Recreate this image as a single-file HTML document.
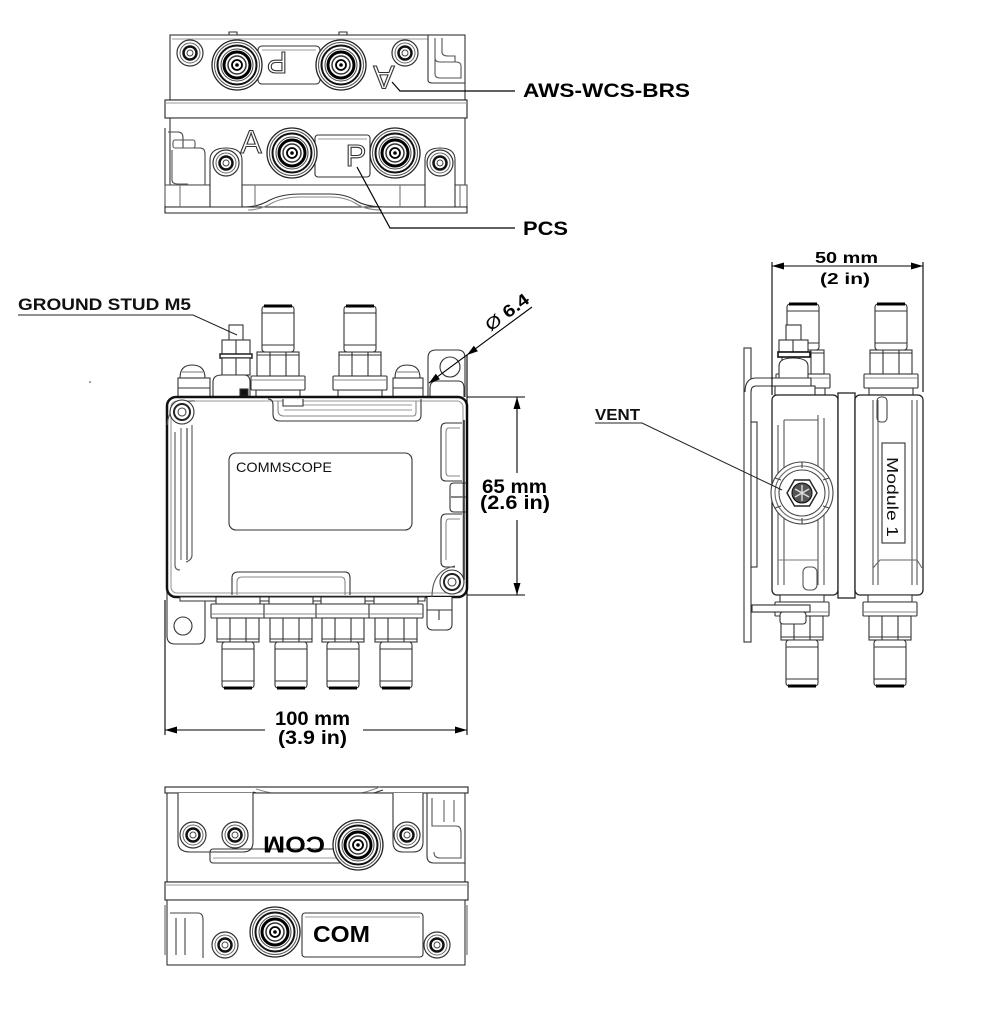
<!DOCTYPE html>
<html><head><meta charset="utf-8">
<style>
html,body{margin:0;padding:0;background:#fff;}
svg{display:block;}
text{font-family:"Liberation Sans",Arial,sans-serif;}
</style></head><body>
<svg width="982" height="1022" viewBox="0 0 982 1022" xmlns="http://www.w3.org/2000/svg">
<defs>
<g id="face">
 <circle r="25" fill="#fff" stroke="#222" stroke-width="1.3"/>
 <circle r="22.5" fill="none" stroke="#555" stroke-width="1"/>
 <circle r="19.5" fill="none" stroke="#111" stroke-width="2"/>
 <circle r="16" fill="none" stroke="#444" stroke-width="1"/>
 <circle r="13" fill="none" stroke="#000" stroke-width="3"/>
 <circle r="9" fill="none" stroke="#333" stroke-width="1.5"/>
 <circle r="5" fill="none" stroke="#000" stroke-width="1.8"/>
 <circle r="1.8" fill="#000"/>
</g>
<g id="hole">
 <circle r="13" fill="#fff" stroke="#333" stroke-width="1.2"/>
 <circle r="10" fill="none" stroke="#666" stroke-width="1"/>
 <circle r="6.5" fill="none" stroke="#111" stroke-width="2.5"/>
 <circle r="3" fill="none" stroke="#444" stroke-width="1"/>
</g>
<g id="conn" fill="#fff" stroke="#333" stroke-width="1.1">
 <rect x="-22" y="-7" width="44" height="7"/>
 <rect x="-27" y="-21" width="54" height="14" rx="1"/>
 <line x1="-27" y1="-17" x2="27" y2="-17" stroke="#888"/>
 <rect x="-21" y="-45" width="42" height="24"/>
 <line x1="-8" y1="-45" x2="-8" y2="-21"/>
 <line x1="8" y1="-45" x2="8" y2="-21"/>
 <line x1="-21" y1="-42" x2="21" y2="-42"/>
 <rect x="-16" y="-91" width="32" height="46" rx="3"/>
 <line x1="-16" y1="-84" x2="16" y2="-84"/>
 <line x1="-16" y1="-52" x2="16" y2="-52"/>
 <line x1="-14" y1="-91" x2="14" y2="-91" stroke="#000" stroke-width="3"/>
</g>
</defs>

<!-- ================= TOP VIEW ================= -->
<g fill="none" stroke="#333" stroke-width="1.1">
 <rect x="170" y="35" width="295" height="65" fill="#fff"/>
 <line x1="172" y1="39" x2="428" y2="39" stroke="#999"/>
 <path d="M229 35 v-3 h8 v3 M339 35 v-3 h8 v3"/>
 <rect x="258" y="46" width="62" height="38" rx="4"/>
 <line x1="262" y1="50" x2="316" y2="50" stroke="#999"/>
 <path d="M428 35 V80 Q428 83 432 83 H465"/>
 <path d="M435 38 V58 Q435 62 440 62 H456 Q461 62 461 66 V78 H440 Q435 78 435 74 Z" stroke="#555"/>
 <path d="M442 38 V52 Q442 56 448 56 H455 V62" stroke="#555"/>
 <rect x="165" y="100" width="302" height="18" fill="#fff" stroke="#222"/>
 <line x1="165" y1="103" x2="467" y2="103" stroke="#999"/>
 <rect x="170" y="118" width="295" height="67" fill="#fff"/>
 <rect x="315" y="135" width="55" height="42" rx="3"/>
 <line x1="318" y1="139" x2="367" y2="139" stroke="#999"/>
 <path d="M165 128 V185"/>
 <path d="M168 132 H178 Q183 132 183 138 V148 H200 Q205 148 205 154 V185" stroke="#444"/>
 <path d="M172 150 V180 Q172 184 178 184 H188" stroke="#555"/>
 <rect x="173" y="140" width="22" height="8" rx="2" stroke="#555"/>
 <rect x="165" y="185" width="302" height="22" fill="#fff" stroke="#555"/>
 <path d="M210 212 V160 Q210 148 226 148 Q242 148 242 160 V212" fill="#fff"/>
 <path d="M425 212 V160 Q425 148 440 148 Q455 148 455 160 V212" fill="#fff"/>
 <path d="M165 207 H467 V213 H165 Z" fill="#fff" stroke="#222"/>
 <path d="M245 207 Q258 207 270 200 Q282 194 300 194 H330 Q345 194 355 200 Q365 207 385 207" stroke="#333"/>
 <path d="M248 210 Q260 210 272 203 Q284 197 300 197 H330 Q345 197 355 203 Q365 210 382 210" stroke="#888"/>
 <path d="M180 185 V207 M255 185 V207 M400 185 V207 M460 185 V207" stroke="#777"/>
</g>
<use href="#face" x="237" y="65"/>
<use href="#face" x="341" y="65"/>
<use href="#hole" x="190" y="53"/>
<use href="#hole" x="405" y="53"/>
<use href="#face" x="292" y="153"/>
<use href="#face" x="395" y="153"/>
<use href="#hole" x="226" y="163"/>
<use href="#hole" x="440" y="163"/>
<text font-size="31" text-anchor="middle" fill="#fff" stroke="#333" stroke-width="1.1" transform="translate(277,63) rotate(180)" y="11">P</text>
<text font-size="32" text-anchor="middle" fill="#fff" stroke="#333" stroke-width="1.1" transform="translate(384,77) rotate(180)" y="11">A</text>
<text font-size="32" text-anchor="middle" fill="#fff" stroke="#333" stroke-width="1.1" x="251" y="153">A</text>
<text font-size="31" text-anchor="middle" fill="#fff" stroke="#333" stroke-width="1.1" x="356" y="166">P</text>
<!-- leaders top -->
<path d="M392 82 L400 91 H515" fill="none" stroke="#000" stroke-width="1.2"/>
<path d="M357 167 L390 228 H515" fill="none" stroke="#000" stroke-width="1.2"/>
<text x="523" y="97" font-size="19" font-weight="bold" textLength="167" lengthAdjust="spacingAndGlyphs">AWS-WCS-BRS</text>
<text x="523" y="235" font-size="19" font-weight="bold" textLength="45" lengthAdjust="spacingAndGlyphs">PCS</text>

<!-- ================= MAIN VIEW ================= -->
<g fill="none" stroke="#333" stroke-width="1.1">
 <!-- left flange -->
 <path d="M167 590 V636 Q167 644 175 644 H198 Q205 644 205 636 V597" fill="#fff"/>
 <circle cx="183" cy="626" r="9"/>
 <!-- right tab -->
 <path d="M428 397 V358 Q428 350 436 350 H458 Q465 350 465 358 V397" fill="#fff"/>
 <circle cx="450" cy="367" r="10"/>
 <path d="M430 397 V388 Q430 381 437 381 H458 Q464 381 464 388 V397" fill="#fff"/>
 <!-- left bolt -->
 <path d="M180 378 Q180 365 192 365 Q205 365 205 378 Z" fill="#fff"/>
 <line x1="182" y1="372" x2="203" y2="372" stroke="#777"/>
 <rect x="178" y="378" width="32" height="19" fill="#fff"/>
 <line x1="178" y1="388" x2="210" y2="388"/>
 <!-- right bolt -->
 <path d="M395 378 Q395 365 407 365 Q420 365 420 378 Z" fill="#fff"/>
 <line x1="397" y1="372" x2="418" y2="372" stroke="#777"/>
 <rect x="393" y="378" width="30" height="19" fill="#fff"/>
 <line x1="393" y1="388" x2="423" y2="388"/>
 <!-- ground stud -->
 <rect x="229" y="325" width="14" height="16" fill="#fff"/>
 <rect x="222" y="340" width="28" height="14" fill="#fff"/>
 <line x1="236" y1="340" x2="236" y2="354"/>
 <rect x="220" y="354" width="32" height="4" fill="#fff" stroke="#222" stroke-width="1.5"/>
 <rect x="222" y="358" width="28" height="17" fill="#fff"/>
 <line x1="236" y1="358" x2="236" y2="375"/>
 <path d="M213 397 V382 Q213 375 222 375 H244 Q250 375 250 382 V397" fill="#fff"/>
 <rect x="240" y="389" width="8" height="7" fill="#111"/>
</g>
<use href="#conn" x="278" y="397"/>
<use href="#conn" x="360" y="397"/>
<g fill="none" stroke="#333" stroke-width="1.1">
 <!-- body -->
 <rect x="167" y="397" width="300" height="200" rx="9" fill="#fff" stroke="#111" stroke-width="2.5"/>
 <rect x="171" y="401" width="292" height="192" rx="6" stroke="#999"/>
 <!-- top notch -->
 <path d="M268 399 Q273 399 273 405 V414 Q273 421 280 421 H415 Q421 421 421 415 V399"/>
 <path d="M278 401 V410 Q278 416 284 416 H413 Q416 416 416 412 V401" stroke="#888"/>
 <line x1="284" y1="405" x2="412" y2="405" stroke="#999"/>
 <line x1="284" y1="410" x2="412" y2="410" stroke="#999"/>
 <path d="M283 399 V406 H303 V399" fill="#fff"/>
 <!-- bottom notch -->
 <path d="M232 595 V578 Q232 572 238 572 H345 Q350 572 350 578 V595"/>
 <path d="M237 595 V582 Q237 577 242 577 H341 Q345 577 345 582 V595" stroke="#888"/>
 <!-- left interior -->
 <path d="M175 432 V565 Q175 570 180 570" stroke="#555"/>
 <path d="M181 428 V560" stroke="#666"/>
 <path d="M187 428 V560"/>
 <path d="M192 425 V555 Q192 560 186 562" stroke="#555"/>
 <!-- right recesses -->
 <path d="M462 423 H446 Q441 423 441 429 V476 Q441 481 446 481 H462"/>
 <path d="M460 428 H449 Q446 428 446 432 V472 Q446 476 449 476 H460" stroke="#888"/>
 <path d="M467 483 H454 Q450 483 450 487 V508 Q450 512 454 512 H467"/>
 <line x1="451" y1="497" x2="466" y2="497" stroke="#888" stroke-width="2"/>
 <path d="M462 514 H446 Q441 514 441 520 V562 Q441 567 446 567 H455"/>
 <path d="M460 519 H449 Q446 519 446 523 V560" stroke="#888"/>
 <line x1="464" y1="420" x2="464" y2="580" stroke="#222" stroke-width="1.5"/>
 <!-- corner bosses -->
 <path d="M167 425 Q170 400 195 401" stroke="#555"/>
 <circle cx="182" cy="412" r="12" fill="#fff"/>
 <circle cx="182" cy="412" r="8" stroke="#222" stroke-width="2"/>
 <circle cx="182" cy="412" r="4" stroke="#444"/>
 <path d="M432 597 Q432 570 455 566" stroke="#555"/>
 <circle cx="452" cy="582" r="12" fill="#fff"/>
 <circle cx="452" cy="582" r="8" stroke="#222" stroke-width="2"/>
 <circle cx="452" cy="582" r="4" stroke="#444"/>
 <!-- label -->
 <rect x="229" y="453" width="183" height="77" rx="7" stroke="#333"/>
 <!-- bottom small bolt -->
 <path d="M427 597 V624 Q427 630 433 630 H446 Q452 630 452 624 V597" fill="#fff"/>
 <line x1="427" y1="610" x2="452" y2="610"/>
 <line x1="439" y1="610" x2="439" y2="620"/>
 <rect x="180" y="597" width="245" height="4" fill="#fff" stroke="#444"/>
</g>
<text x="236" y="472" font-size="14" textLength="96" lengthAdjust="spacingAndGlyphs" fill="#111">COMMSCOPE</text>
<use href="#conn" transform="translate(238,597) scale(1,-1)"/>
<use href="#conn" transform="translate(291,597) scale(1,-1)"/>
<use href="#conn" transform="translate(343,597) scale(1,-1)"/>
<use href="#conn" transform="translate(396,597) scale(1,-1)"/>
<circle cx="90" cy="382" r="0.8" fill="#333"/>

<!-- ground stud label -->
<text x="18" y="310" font-size="16.5" font-weight="bold" textLength="173" lengthAdjust="spacingAndGlyphs" fill="#111">GROUND STUD M5</text>
<path d="M18 315 H193 L237 335" fill="none" stroke="#222" stroke-width="1"/>

<!-- dim 65 -->
<g stroke="#000" stroke-width="1.1" fill="none">
 <path d="M467 397 H525 M467 595 H525"/>
 <path d="M517 397 V473 M517 520 V595"/>
 <path d="M467 355 V735 M165 600 V735"/>
 <path d="M165 730 H265 M363 730 H467"/>
 <path d="M429 383 L532 307"/>
</g>
<g fill="#000">
 <polygon points="517,397 513.5,409 520.5,409"/>
 <polygon points="517,595 513.5,583 520.5,583"/>
 <polygon points="165,730 177,726.5 177,733.5"/>
 <polygon points="467,730 455,726.5 455,733.5"/>
 <polygon points="467,355 473.8,345.7 477.9,351.3"/>
 <polygon points="429,383 435.8,373.7 439.9,379.3"/>
</g>
<text x="482" y="493" font-size="19.5" font-weight="bold" textLength="65" lengthAdjust="spacingAndGlyphs">65 mm</text>
<text x="480" y="509" font-size="19" font-weight="bold" textLength="70" lengthAdjust="spacingAndGlyphs">(2.6 in)</text>
<text x="275" y="725" font-size="19.5" font-weight="bold" textLength="75" lengthAdjust="spacingAndGlyphs">100 mm</text>
<text x="278" y="744" font-size="19" font-weight="bold" textLength="69" lengthAdjust="spacingAndGlyphs">(3.9 in)</text>
<g transform="translate(507,312) rotate(-37)">
 <text x="0" y="6" font-size="17" text-anchor="middle" textLength="50" lengthAdjust="spacingAndGlyphs"><tspan font-weight="normal">Ø</tspan> <tspan font-weight="bold">6.4</tspan></text>
</g>

<!-- ================= SIDE VIEW ================= -->
<g fill="none" stroke="#333" stroke-width="1.1">
 <rect x="744" y="348" width="7" height="294" fill="#fff"/>
 <rect x="751" y="422" width="6" height="145" fill="#fff"/>
 <!-- right top connector behind -->
</g>
<use href="#conn" x="803" y="395"/>
<use href="#conn" x="891" y="395"/>
<g fill="none" stroke="#333" stroke-width="1.1">
 <!-- stud -->
 <rect x="786" y="325" width="15" height="16" fill="#fff"/>
 <rect x="779" y="340" width="29" height="12" fill="#fff"/>
 <line x1="793" y1="340" x2="793" y2="352"/>
 <rect x="778" y="352" width="32" height="5" fill="#fff" stroke="#111" stroke-width="1.6"/>
 <path d="M779 378 V366 Q779 358 793 358 Q808 358 808 366 V378" fill="#fff"/>
 <!-- bracket arm -->
 <path d="M745 392 Q745 378 756 378 H811 V386 H756 Q751 386 751 392" fill="#fff"/>
 <rect x="775" y="386" width="40" height="9" fill="#fff"/>
 <!-- modules -->
 <rect x="772" y="395" width="66" height="200" rx="5" fill="#fff" stroke="#222" stroke-width="1.3"/>
 <rect x="838" y="393" width="17" height="205" fill="#fff" stroke="#222" stroke-width="1.3"/>
 <rect x="855" y="395" width="68" height="200" rx="5" fill="#fff" stroke="#222" stroke-width="1.3"/>
 <path d="M778 425 V585 M784 420 V585 M818 415 V585 M824 418 V585" stroke="#555"/>
 <path d="M784 420 H818" stroke="#555"/>
 <path d="M778 560 H818" stroke="#777"/>
 <rect x="803" y="567" width="14" height="23" rx="5" stroke="#555"/>
 <path d="M873 400 V585 M878 400 V585 M912 400 V585 M917 400 V585" stroke="#555"/>
 <rect x="877" y="397" width="10" height="25" rx="4" stroke="#444"/>
 <path d="M873 568 L880 560 H917 L922 568" stroke="#666"/>
 <rect x="882" y="443" width="23" height="100" stroke="#333" fill="#fff"/>
 <!-- vent -->
 <circle cx="802" cy="493" r="31" fill="#fff" stroke="#444"/>
 <circle cx="802" cy="493" r="27" stroke="#666"/>
 <circle cx="802" cy="493" r="23" stroke="#444"/>
 <path d="M775 478 L781 480 M775 508 L781 506 M829 478 L823 480 M829 508 L823 506 M802 462 V468 M802 518 V524" stroke="#444"/>
 <polygon points="817,493 809.5,506 794.5,506 787,493 794.5,480 809.5,480" fill="#fff" stroke="#222" stroke-width="1.4"/>
 <circle cx="802" cy="493" r="10" fill="#555" stroke="#111"/>
 <path d="M795 489 L809 497 M795 497 L809 489 M802 485 V501" stroke="#ddd" stroke-width="1.4"/>
 <!-- bottom arm -->
 <rect x="752" y="605" width="58" height="7" fill="#fff"/>
</g>
<use href="#conn" transform="translate(802,595) scale(1,-1)"/>
<use href="#conn" transform="translate(890,595) scale(1,-1)"/>
<g fill="none" stroke="#333" stroke-width="1.1">
 <rect x="752" y="605" width="58" height="7" fill="#fff"/>
 <rect x="780" y="612" width="26" height="12" rx="3" fill="#fff"/>
</g>
<text transform="translate(893,497) rotate(90)" x="0" y="6" font-size="16" text-anchor="middle" textLength="80" lengthAdjust="spacingAndGlyphs" fill="#111">Module 1</text>

<!-- dim 50 -->
<g stroke="#000" stroke-width="1.1" fill="none">
 <path d="M772 262 V395 M923 262 V392 M772 266 H923"/>
</g>
<g fill="#000">
 <polygon points="772,266 784,262.5 784,269.5"/>
 <polygon points="923,266 911,262.5 911,269.5"/>
</g>
<text x="815" y="263" font-size="16" font-weight="bold" textLength="63" lengthAdjust="spacingAndGlyphs">50 mm</text>
<text x="820" y="284" font-size="16" font-weight="bold" textLength="50" lengthAdjust="spacingAndGlyphs">(2 in)</text>

<!-- vent label -->
<text x="595" y="420" font-size="16" font-weight="bold" textLength="45" lengthAdjust="spacingAndGlyphs" fill="#111">VENT</text>
<path d="M595 423 H642 L782 490" fill="none" stroke="#222" stroke-width="1"/>

<!-- ================= BOTTOM VIEW ================= -->
<g fill="none" stroke="#333" stroke-width="1.1">
 <rect x="165" y="787" width="303" height="6" fill="#fff" stroke="#222"/>
 <path d="M253 792 Q280 800 310 800 H330 Q355 800 383 790" />
 <path d="M256 789 Q282 797 310 797 H330 Q355 797 380 787" stroke="#888"/>
 <rect x="167" y="793" width="298" height="89" fill="#fff"/>
 <path d="M178 793 V842 Q178 852 190 852 H243 Q253 852 253 842 V793" fill="#fff"/>
 <path d="M393 793 V842 Q393 852 403 852 H413 Q423 852 423 842 V793" fill="#fff"/>
 <rect x="210" y="849" width="150" height="14" rx="3"/>
 <line x1="213" y1="858" x2="357" y2="858" stroke="#999"/>
 <path d="M427 793 V856 Q427 863 434 863 H465"/>
 <path d="M432 798 V826 H456 Q461 826 461 832 V858 H440 Q434 858 434 852" stroke="#555"/>
 <path d="M444 800 V822 M454 800 V822" stroke="#666"/>
 <rect x="165" y="882" width="303" height="18" fill="#fff" stroke="#222"/>
 <line x1="165" y1="885" x2="468" y2="885" stroke="#999"/>
 <rect x="167" y="900" width="298" height="65" fill="#fff"/>
 <rect x="302" y="913" width="121" height="44" rx="3"/>
 <line x1="305" y1="917" x2="420" y2="917" stroke="#999"/>
 <path d="M170 913 H198 Q203 913 203 920 V958 M176 918 V955 M185 918 V955" stroke="#444"/>
 <path d="M165 905 V955 M467 905 V955" stroke="#666"/>
</g>
<use href="#hole" x="193" y="835"/>
<use href="#hole" x="235" y="835"/>
<use href="#hole" x="407" y="835"/>
<use href="#face" x="358" y="845"/>
<use href="#face" x="275" y="932"/>
<use href="#hole" x="225" y="945"/>
<use href="#hole" x="437" y="945"/>
<text transform="translate(294,845) rotate(180)" x="0" y="8.5" font-size="23" font-weight="bold" text-anchor="middle" textLength="62" lengthAdjust="spacingAndGlyphs">COM</text>
<text x="313" y="942" font-size="23" font-weight="bold" textLength="57" lengthAdjust="spacingAndGlyphs">COM</text>
</svg>
</body></html>
